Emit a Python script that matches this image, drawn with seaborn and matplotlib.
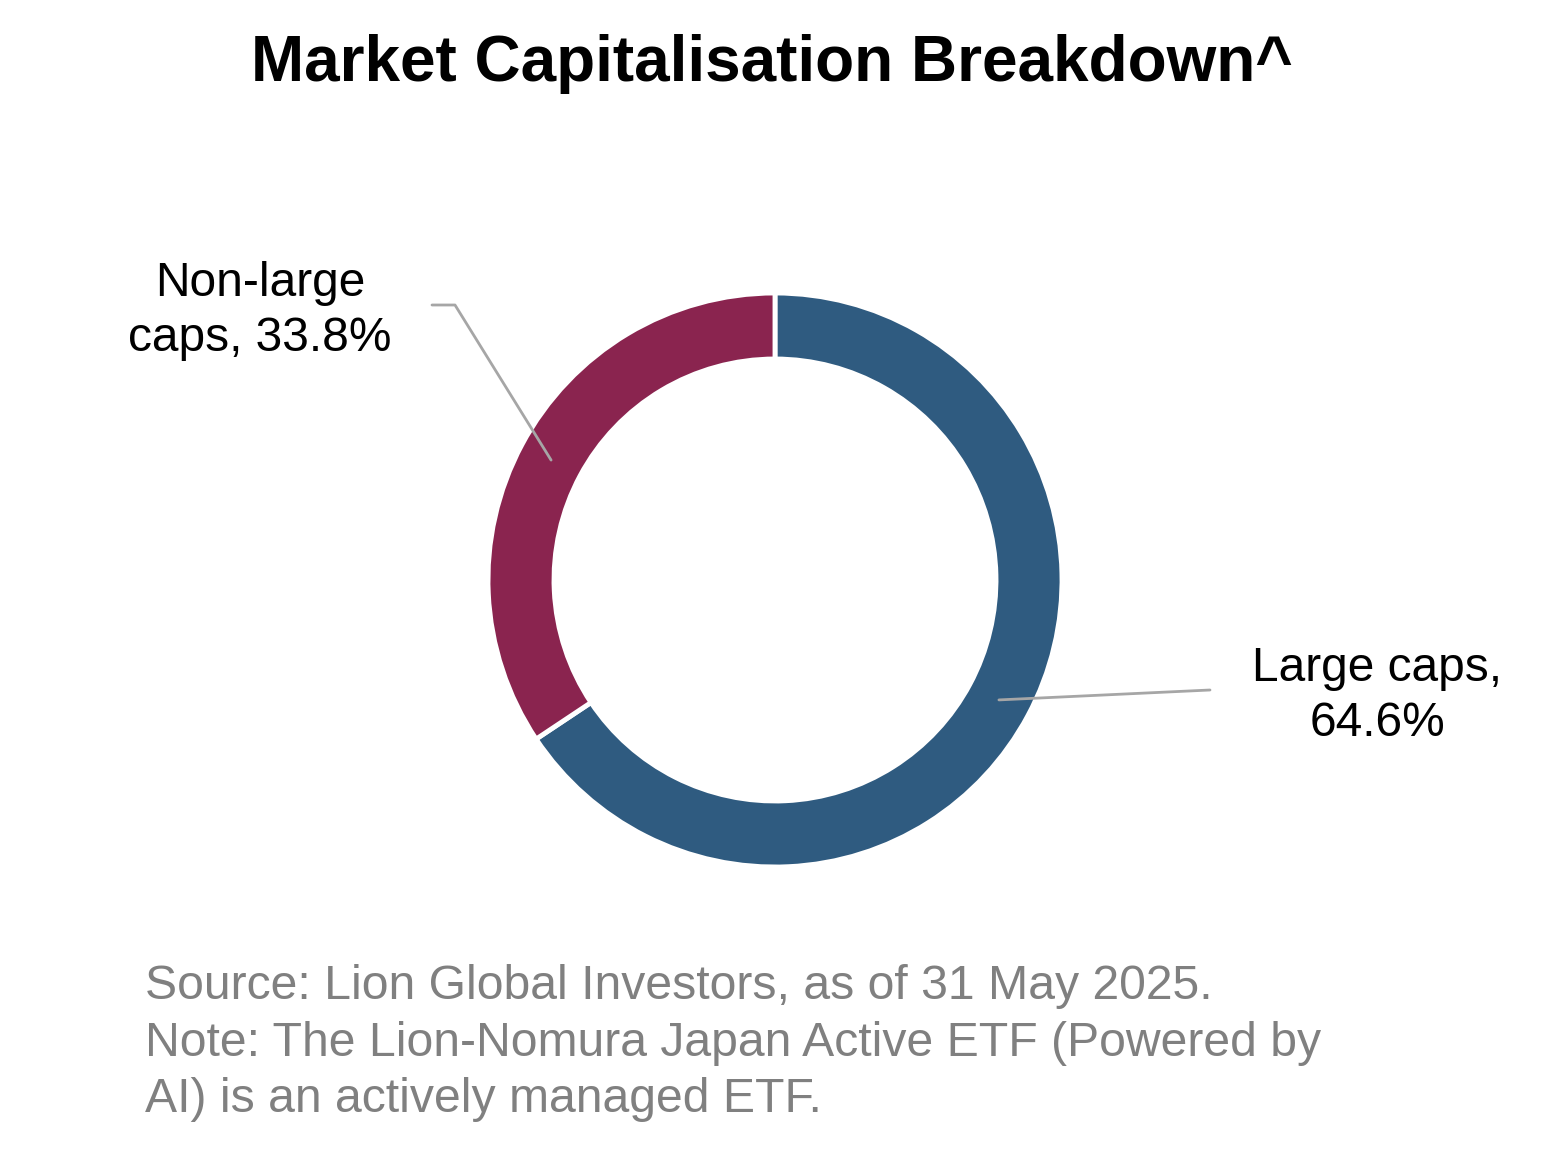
import numpy as np
import matplotlib
matplotlib.use("Agg")
import matplotlib.pyplot as plt
import seaborn as sns

# data
labels = ["Large caps", "Non-large caps"]
shares = [64.6, 33.8]
label_texts = ["Large caps,\n64.6%", "Non-large\ncaps, 33.8%"]
colors = ["#2F5B80", "#8A244F"]

title = "Market Capitalisation Breakdown^"
footer = ("Source: Lion Global Investors, as of 31 May 2025.\n"
          "Note: The Lion-Nomura Japan Active ETF (Powered by\n"
          "AI) is an actively managed ETF.")

sns.set_theme(style="white")
plt.rcParams["font.family"] = ["Liberation Sans", "DejaVu Sans"]

W, H = 1546, 1153
fig = plt.figure(figsize=(W / 100, H / 100), dpi=100)
ax = fig.add_axes([0, 0, 1, 1])
ax.set_xlim(0, W)
ax.set_ylim(0, H)
ax.set_aspect("equal")
ax.axis("off")

cx, cy = 775, H - 580
r_out, ring = 287, 66

wedges, _ = ax.pie(shares, colors=colors, startangle=90, counterclock=False,
                   radius=r_out, center=(cx, cy),
                   wedgeprops=dict(width=ring, edgecolor="white", linewidth=3.5))
ax.set_xlim(0, W)
ax.set_ylim(0, H)

# leader lines from middle of ring at the wedge mid-angle
r_mid = r_out - ring / 2
line_kw = dict(color="#A6A6A6", lw=2)
for i, w in enumerate(wedges):
    ang = np.deg2rad((w.theta1 + w.theta2) / 2)
    x0, y0 = cx + r_mid * np.cos(ang), cy + r_mid * np.sin(ang)
    if i == 0:
        ax.plot([x0, 1210], [y0, H - 690], **line_kw)
        ax.text(1377, H - 696, label_texts[i], ha="center", va="center",
                fontsize=34.5, linespacing=1.3, color="black")
    else:
        ax.plot([x0, 455, 432], [y0, H - 305, H - 305], **line_kw)
        ax.text(260, H - 311, label_texts[i], ha="center", va="center",
                fontsize=34.5, linespacing=1.3, color="black")

fig.text(772 / W, 1 - 64 / H, title, ha="center", va="center",
         fontsize=46, fontweight="bold", color="black")
fig.text(145 / W, 1 - 1043 / H, footer, ha="left", va="center",
         fontsize=34.7, color="#808080", linespacing=1.32)

fig.savefig("out.png", dpi=100, facecolor="white")
